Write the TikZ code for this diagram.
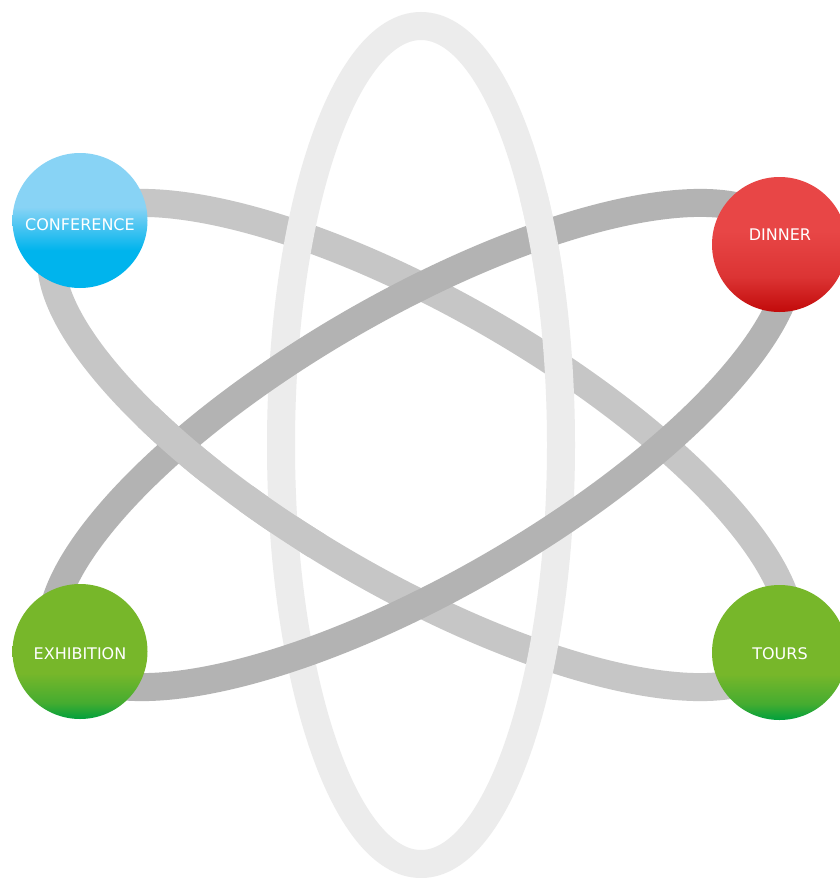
\documentclass[tikz,border=0pt]{standalone}
\usepackage{fontspec}
\setmainfont{DejaVu Sans}
\definecolor{ringV}{HTML}{ECECEC}
\definecolor{ringL}{HTML}{C6C6C6}
\definecolor{ringD}{HTML}{B3B3B3}
\definecolor{blueL}{HTML}{88D3F5}
\definecolor{blueD}{HTML}{00B4ED}
\definecolor{redL}{HTML}{E84646}
\definecolor{redM}{HTML}{DC3434}
\definecolor{redD}{HTML}{C20A0A}
\definecolor{greenL}{HTML}{77B72A}
\definecolor{greenM}{HTML}{45AC30}
\definecolor{greenD}{HTML}{00A03C}
\pgfdeclareverticalshading{confshade}{100bp}{color(0bp)=(blueD); color(39bp)=(blueD); color(55bp)=(blueL); color(100bp)=(blueL)}
\pgfdeclareverticalshading{dinnershade}{100bp}{color(0bp)=(redD); color(25bp)=(redD); color(38bp)=(redM); color(55bp)=(redL); color(100bp)=(redL)}
\pgfdeclareverticalshading{greenshade}{100bp}{color(0bp)=(greenD); color(25bp)=(greenD); color(31bp)=(greenM); color(42bp)=(greenL); color(100bp)=(greenL)}
\begin{document}
\begin{tikzpicture}[x=1pt,y=-1pt,
  ring/.style={line width=28pt},
  ball/.style={circle, minimum size=135pt, inner sep=0pt},
  lbl/.style={text=white, font=\fontsize{16}{19}\selectfont, anchor=base, inner sep=0pt}]
\useasboundingbox (0,0) rectangle (839,878);
\fill[white] (0,0) rectangle (839,878);
\coordinate (c) at (421,445);
% light ring (upper-left to lower-right)
\draw[ring, ringL, rotate around={60:(c)}] (c) ellipse [x radius=140, y radius=419];
% vertical ring
\draw[ring, ringV] (c) ellipse [x radius=140, y radius=419];
% dark ring (lower-left to upper-right)
\draw[ring, ringD, rotate around={-60:(c)}] (c) ellipse [x radius=140, y radius=419];
% weave: light over vertical
\begin{scope}
  \clip (283,520) circle [radius=45];
  \draw[ring, ringL, rotate around={60:(c)}] (c) ellipse [x radius=140, y radius=419];
\end{scope}
% weave: vertical over dark
\begin{scope}
  \clip (543,238) circle [radius=45];
  \draw[ring, ringV] (c) ellipse [x radius=140, y radius=419];
\end{scope}
% weave: light over dark
\begin{scope}
  \clip (179,445) circle [radius=45];
  \draw[ring, ringL, rotate around={60:(c)}] (c) ellipse [x radius=140, y radius=419];
\end{scope}
% balls
\node[ball, shading=confshade] (conf) at (80,220.5) {};
\node[ball, shading=dinnershade] (dinner) at (779.5,244.5) {};
\node[ball, shading=greenshade] (exhib) at (80,651.5) {};
\node[ball, shading=greenshade] (tours) at (779.5,652.5) {};
\node[lbl] (conft) at (80,230) {CONFERENCE};
\node[lbl] (dinnert) at (780,240) {DINNER};
\node[lbl] (exhibt) at (80,659) {EXHIBITION};
\node[lbl] (tourst) at (780,659) {TOURS};
\end{tikzpicture}
\end{document}
